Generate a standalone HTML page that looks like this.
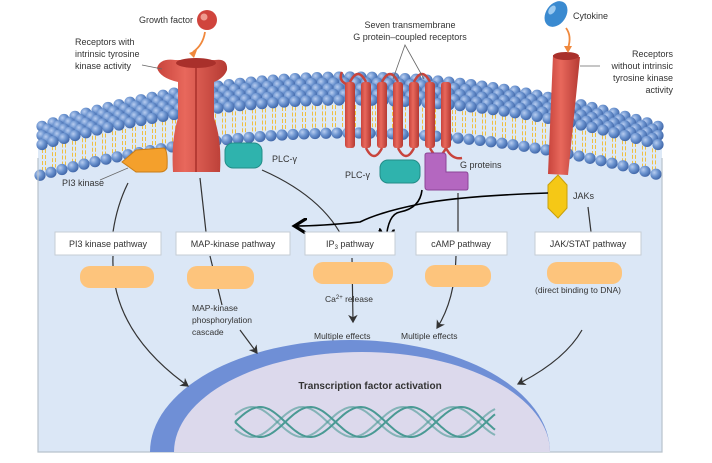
<!DOCTYPE html>
<html><head><meta charset="utf-8"><style>
body{margin:0;background:#fff;width:712px;height:463px;overflow:hidden}
svg{display:block}
text{font-family:"Liberation Sans",sans-serif;fill:#333}
</style></head><body>
<svg id="s" width="712" height="463" viewBox="0 0 712 463" xmlns="http://www.w3.org/2000/svg">
<defs>
<radialGradient id="hd" cx="0.35" cy="0.35" r="0.7"><stop offset="0" stop-color="#b8cdf0"/><stop offset="0.5" stop-color="#6b93cf"/><stop offset="1" stop-color="#3e64a6"/></radialGradient>
<linearGradient id="rd" x1="0" x2="1"><stop offset="0" stop-color="#c8443c"/><stop offset="0.4" stop-color="#e8685c"/><stop offset="1" stop-color="#b53a33"/></linearGradient>
<marker id="ar" markerWidth="8" markerHeight="8" refX="6" refY="4" orient="auto"><path d="M0,0 L7,4 L0,8 L2,4z" fill="#333"/></marker>
<marker id="ak" markerWidth="10" markerHeight="10" refX="7" refY="5" orient="auto"><path d="M0,0 L8,5 L0,10" fill="none" stroke="#000" stroke-width="2"/></marker>
</defs>
<g id="mem"></g>
<!-- cell border -->
<path d="M38,158 L38,452 L662,452 L662,158" fill="none" stroke="#b8c2cc" stroke-width="1.2"/>
<!-- nucleus -->
<path d="M150,452 A200,112 0 0 1 550,452 Z" fill="#6f8fd6"/>
<path d="M174,452 A188,100 0 0 1 550,452 Z" fill="#dcd9ec"/>
<text x="370" y="389" font-size="10" font-weight="bold" text-anchor="middle">Transcription factor activation</text>
<g id="dna" fill="none" stroke="#4a9a94" stroke-width="2"></g>

<!-- RTK -->
<path d="M157,68 Q160,58 175,60 L215,60 Q228,58 227,70 Q224,78 214,82 L214,118 Q222,140 220,172 L173,172 Q171,140 178,118 L178,82 Q160,78 157,68Z" fill="url(#rd)"/>
<ellipse cx="196" cy="63" rx="20" ry="5" fill="#a9302b"/>
<line x1="196" y1="66" x2="196" y2="172" stroke="#a9302b" stroke-width="1.5"/>
<circle cx="207" cy="20" r="10" fill="#d0443c"/><circle cx="204" cy="17" r="3.5" fill="#ef9a8e"/>
<path d="M205,32 Q203,45 193,52" fill="none" stroke="#f0883c" stroke-width="1.8"/>
<path d="M189,53 l8,-3 -3,8z" fill="#f0883c"/>
<text x="193" y="23" font-size="9" text-anchor="end">Growth factor</text>
<text x="75" y="45" font-size="9">Receptors with</text>
<text x="75" y="57" font-size="9">intrinsic tyrosine</text>
<text x="75" y="69" font-size="9">kinase activity</text>
<line x1="142" y1="65" x2="162" y2="69" stroke="#666" stroke-width="0.8"/>
<path d="M122,162 L136,150 L164,148 Q168,150 167,168 Q165,172 160,172 L136,172Z" fill="#f4a02c" stroke="#c97d17"/>
<text x="62" y="186" font-size="9">PI3 kinase</text>
<line x1="100" y1="180" x2="128" y2="168" stroke="#666" stroke-width="0.8"/>
<rect x="225" y="143" width="37" height="25" rx="8" fill="#2fb3ad" stroke="#238d88"/>
<text x="272" y="162" font-size="9">PLC-γ</text>

<!-- GPCR -->
<g id="gp"></g>
<text x="410" y="28" font-size="9" text-anchor="middle">Seven transmembrane</text>
<text x="410" y="40" font-size="9" text-anchor="middle">G protein–coupled receptors</text>
<path d="M393,79 L405,45 L424,79" fill="none" stroke="#666" stroke-width="0.8"/>
<rect x="380" y="160" width="40" height="23" rx="8" fill="#2fb3ad" stroke="#238d88"/>
<text x="345" y="178" font-size="9">PLC-γ</text>
<path d="M425,155 Q425,153 428,153 L443,153 Q446,153 446,156 L446,172 L466,172 Q468,172 468,175 L468,188 Q468,190 466,190 L428,190 Q425,190 425,187Z" fill="#b467c0" stroke="#8d4597"/>
<text x="460" y="168" font-size="9">G proteins</text>

<!-- cytokine receptor -->
<path d="M553,55 L580,57 L568,175 L548,174Z" fill="url(#rd)"/>
<ellipse cx="566" cy="56" rx="13" ry="4" fill="#a9302b"/>
<ellipse cx="556" cy="14" rx="10" ry="14" transform="rotate(35 556 14)" fill="#3a8ad0"/>
<ellipse cx="552" cy="10" rx="3" ry="5" transform="rotate(35 552 10)" fill="#9ccaf0"/>
<path d="M566,28 Q572,36 568,48" fill="none" stroke="#f0883c" stroke-width="1.8"/>
<path d="M564,46 l8,0 -4,7z" fill="#f0883c"/>
<text x="573" y="19" font-size="9">Cytokine</text>
<text x="673" y="57" font-size="9" text-anchor="end">Receptors</text>
<text x="673" y="69" font-size="9" text-anchor="end">without intrinsic</text>
<text x="673" y="81" font-size="9" text-anchor="end">tyrosine kinase</text>
<text x="673" y="93" font-size="9" text-anchor="end">activity</text>
<line x1="580" y1="66" x2="600" y2="66" stroke="#666" stroke-width="0.8"/>
<path d="M548,185 L558,175 L567,185 L567,208 L558,218 L548,208Z" fill="#f5c816" stroke="#c9a00a"/>
<text x="573" y="199" font-size="9">JAKs</text>

<!-- connectors -->
<g fill="none" stroke="#333" stroke-width="1.2">
<path d="M128,183 Q117,205 113,232"/>
<path d="M113,256 Q110,330 188,386" marker-end="url(#ar)"/>
<path d="M200,178 L206,232"/>
<path d="M210,256 L222,305"/>
<path d="M240,330 L257,353" marker-end="url(#ar)"/>
<path d="M262,170 Q330,200 348,250"/>
<path d="M352,258 L353,322" marker-end="url(#ar)"/>
<path d="M458,193 L458,232"/>
<path d="M456,256 Q455,300 437,328" marker-end="url(#ar)"/>
<path d="M588,207 L591,232"/>
<path d="M582,330 Q565,360 518,384" marker-end="url(#ar)"/>
</g>
<g fill="none" stroke="#000" stroke-width="1.6">
<path d="M548,193 Q460,196 420,204 Q380,212 360,222 Q320,226 296,226" marker-end="url(#ak)"/>
<path d="M422,190 Q420,208 400,212 Q388,214 386,240" marker-end="url(#ak)"/>
</g>

<!-- pathway boxes -->
<g fill="#fff" stroke="#c6ccd4" stroke-width="1">
<rect x="55" y="232" width="106" height="23"/>
<rect x="176" y="232" width="114" height="23"/>
<rect x="305" y="232" width="90" height="23"/>
<rect x="416" y="232" width="91" height="23"/>
<rect x="535" y="232" width="106" height="23"/>
</g>
<g font-size="9" text-anchor="middle">
<text x="108" y="247">PI3 kinase pathway</text>
<text x="233" y="247">MAP-kinase pathway</text>
<text x="350" y="247">IP<tspan font-size="6" dy="2">3</tspan><tspan dy="-2"> pathway</tspan></text>
<text x="461" y="247">cAMP pathway</text>
<text x="588" y="247">JAK/STAT pathway</text>
</g>
<g fill="#fdc47c">
<rect x="80" y="266" width="74" height="22" rx="10"/>
<rect x="187" y="266" width="67" height="23" rx="10"/>
<rect x="313" y="262" width="80" height="22" rx="10"/>
<rect x="425" y="265" width="66" height="22" rx="10"/>
<rect x="547" y="262" width="75" height="22" rx="10"/>
</g>
<g font-size="8.5">
<text x="192" y="311">MAP-kinase</text>
<text x="192" y="323">phosphorylation</text>
<text x="192" y="335">cascade</text>
<text x="325" y="302">Ca<tspan font-size="6" dy="-3">2+</tspan><tspan dy="3"> release</tspan></text>
<text x="314" y="339">Multiple effects</text>
<text x="401" y="339">Multiple effects</text>
<text x="535" y="293">(direct binding to DNA)</text>
</g>
</svg>
<script>
var NS="http://www.w3.org/2000/svg";
function el(p,t,a){var e=document.createElementNS(NS,t);for(var k in a)e.setAttribute(k,a[k]);p.appendChild(e);return e;}
var m=document.getElementById("mem");
function back(x){return 77+0.00052*(x-350)*(x-350);}
function front(x){return 100+0.00047*(x-350)*(x-350);}
function inner(x){return 133+0.00044*(x-350)*(x-350);}
// cell fill
var d="M38,"+front(38);for(var x=38;x<=662;x+=4)d+=" L"+x+","+front(x);d+=" L662,452 L38,452Z";
el(m,"path",{d:d,fill:"#dde9f7"});
var d2="M38,"+inner(38);for(var x=38;x<=662;x+=4)d2+=" L"+x+","+inner(x);d2+=" L662,452 L38,452Z";
el(m,"path",{d:d2,fill:"#dbe7f6"});
// tails
for(var x=44;x<=658;x+=10){var y1=front(x)+5,y2=inner(x)-4;
el(m,"line",{x1:x-1.5,y1:y1,x2:x-1.5,y2:y2,stroke:"#f0c040","stroke-width":1,"stroke-dasharray":"4,2"});
el(m,"line",{x1:x+1.5,y1:y1,x2:x+1.5,y2:y2,stroke:"#f0c040","stroke-width":1,"stroke-dasharray":"4,2"});}
// top surface heads
for(var j=0;j<=4;j++){var off=(j%2)*5.5;
for(var x=42+off;x<=660;x+=11){var y=back(x)+(front(x)-back(x))*j/4;
el(m,"circle",{cx:x,cy:y,r:5.6,fill:"url(#hd)"});}}
for(var x=40;x<=662;x+=11){el(m,"circle",{cx:x,cy:inner(x),r:5.6,fill:"url(#hd)"});}
// GPCR helices
var g=document.getElementById("gp");
var xs=[350,366,382,398,414,430,446];
var lp="";
for(var i=0;i<7;i++){var x=xs[i];
el(g,"rect",{x:x-5,y:82,width:10,height:66,rx:3,fill:"url(#rd)"});}
for(var i=0;i<6;i++){var a=xs[i],b=xs[i+1];
if(i%2==0)el(g,"path",{d:"M"+a+",82 Q"+((a+b)/2)+",66 "+b+",82",fill:"none",stroke:"#c8443c","stroke-width":2.5});
else el(g,"path",{d:"M"+a+",148 Q"+((a+b)/2)+",164 "+b+",148",fill:"none",stroke:"#c8443c","stroke-width":2.5});}
el(g,"path",{d:"M346,84 Q338,80 342,72",fill:"none",stroke:"#c8443c","stroke-width":2.5});
el(g,"path",{d:"M446,148 Q452,160 462,158",fill:"none",stroke:"#c8443c","stroke-width":2.5});
// DNA
var dn=document.getElementById("dna");
function helix(ph,op){var s="";for(var x=235;x<=495;x+=2){var y=422+15*Math.sin((x-235)/16+ph);s+=(x==235?"M":" L")+x+","+y.toFixed(1);}el(dn,"path",{d:s,opacity:op});}
helix(0,1);helix(Math.PI,1);helix(0.5,0.6);helix(Math.PI+0.5,0.6);
</script>
</body></html>
